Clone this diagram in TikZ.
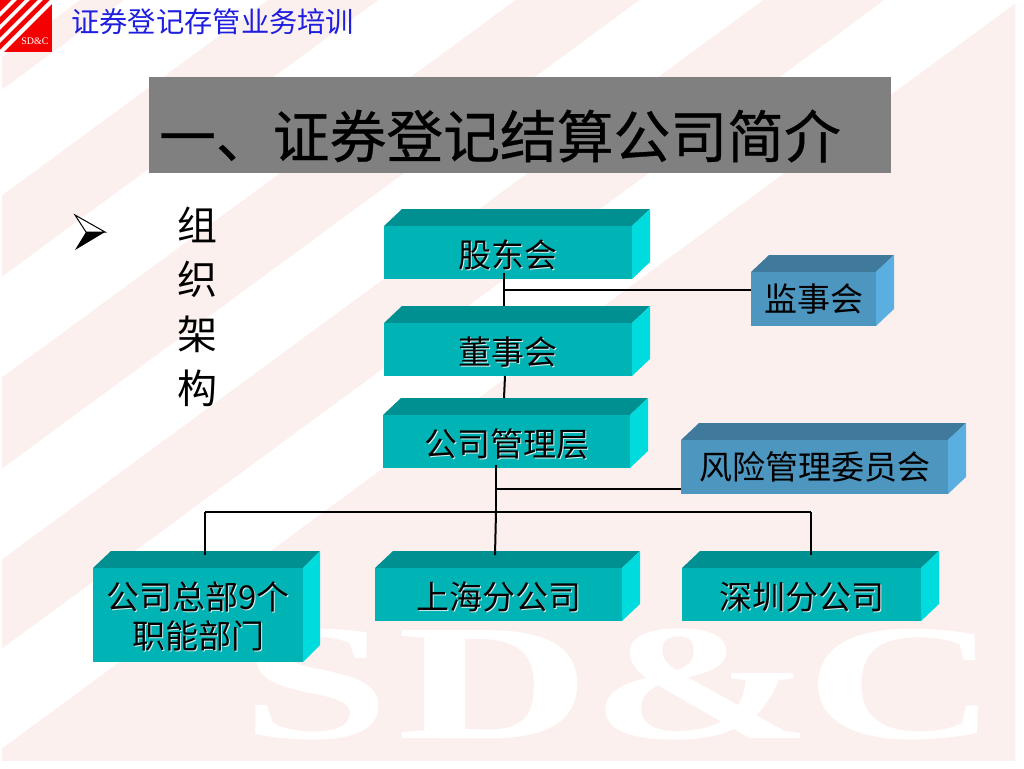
\documentclass[tikz,border=0pt]{standalone}
\usepackage{fontspec}
\setmainfont{Noto Sans CJK SC}
\newfontfamily\titlefont[FakeBold=0.6]{Noto Sans CJK SC}
\newfontfamily\wmfont{Liberation Serif}
\definecolor{bgpink}{HTML}{FCF0EE}
\definecolor{tealfront}{HTML}{00B4B6}
\definecolor{tealtop}{HTML}{009092}
\definecolor{tealside}{HTML}{00DCDE}
\definecolor{bluefront}{HTML}{4D96C0}
\definecolor{bluetop}{HTML}{3F7A9C}
\definecolor{blueside}{HTML}{5AAEE0}
\definecolor{titlegray}{HTML}{808080}
\definecolor{subblue}{HTML}{1E1EE0}
\definecolor{logored}{HTML}{F40000}
\definecolor{txtshadow}{HTML}{D8F0F0}
\tikzset{
  conn/.style={draw=black,line width=2pt},
  boxlabel/.style={inner sep=0pt,outer sep=0pt,align=center,font=\fontsize{33}{39}\selectfont,text=black},
}
\newcommand{\shd}[1]{\rlap{\kern1.3pt\raisebox{-1.3pt}{\textcolor{txtshadow}{#1}}}#1}
\newcommand{\lowr}[2]{\raisebox{-#1}[\height][\depth]{\shd{#2}}}
% \cuboid{name}{x0}{y0}{x1}{y1}{right}{top}{prefix}{text}
\newcommand{\cuboid}[9]{%
  \fill[#8top] (#2,#3) -- (#2+18,#7) -- (#6,#7) -- (#4,#3) -- cycle;
  \fill[#8side] (#4,#3) -- (#6,#7) -- (#6,#5-17) -- (#4,#5) -- cycle;
  \node[boxlabel,fill=#8front,minimum width=#4pt-#2pt,minimum height=#5pt-#3pt] (#1) at ({(#2+#4)/2},{(#3+#5)/2}) {#9};
}
\begin{document}
\begin{tikzpicture}[x=1pt,y=-1pt]
\useasboundingbox (0,0) rectangle (1024,768);
\fill[white] (0,0) rectangle (1024,768);
% background stripes
\begin{scope}
\clip (2,0) rectangle (1015,760);
\def\sl{0.735}
\foreach \a/\b in {59/91,197/278,379/470,561/650}{
  \fill[bgpink] (0,\a) -- (\a/\sl,0) -- (\b/\sl,0) -- (0,\b) -- cycle;
}
\fill[bgpink] (0,750) -- (1020,0) -- (1024,0) -- (1024,768) -- (0,768) -- cycle;
\end{scope}
\node[inner sep=0pt,text=white,font=\wmfont\bfseries\fontsize{120}{120}\selectfont,xscale=2.23,yscale=1.375] (wm) at (620,684) {S\kern.028em D\&\kern-.029em C};
% logo
\fill[logored] (0,0) rectangle (52,52);
\begin{scope}
\clip (0,0) rectangle (52,52);
\foreach \a/\b in {12/17,25/30,38/43,50/56}{
  \fill[white] (0,\a) -- (\a,0) -- (\b,0) -- (0,\b) -- cycle;
}
\end{scope}
\node[inner sep=0pt,text=white,font=\wmfont\fontsize{10}{10}\selectfont] (logotext) at (35,41) {SD\&C};
% headings
\node[inner sep=0pt,anchor=west,text=subblue,font=\fontsize{28.3}{28.3}\selectfont] (sub) at (71,22) {证券登记存管业务培训};
\node[fill=titlegray,minimum width=742pt,minimum height=96pt,inner sep=0pt] (titlebar) at (520,125) {};
\node[inner sep=0pt,text=black,font=\titlefont\fontsize{56.8}{56.8}\selectfont] (title) at (500,136) {一、证券登记结算公司简介};
% bullet
\fill[white] (75,215) -- (105,232) -- (86,232) -- cycle;
\draw[black,line width=1pt,line join=miter] (75,215) -- (105,232) -- (86,232) -- cycle;
\fill[black] (105,232) -- (75,250) -- (86,232) -- cycle;
\node[inner sep=0pt,align=center,font=\fontsize{40}{54.5}\selectfont] (org) at (197,307) {组\\织\\架\\构};
% boxes
\cuboid{gd}{384}{226}{632}{279}{650}{209}{teal}{\lowr{3pt}{股东会}}
\cuboid{ds}{384}{323}{632}{376}{650}{306}{teal}{\lowr{3pt}{董事会}}
\cuboid{gl}{383}{415}{630}{468}{648}{398}{teal}{\lowr{3pt}{公司管理层}}
\cuboid{js}{751}{272}{876}{326}{894}{255}{blue}{监事会}
\cuboid{fx}{681}{440}{948}{494}{966}{423}{blue}{风险管理委员会}
\cuboid{zb}{93}{568}{303}{662}{320}{551}{teal}{\lowr{2pt}{公司总部9个}\\\lowr{2pt}{职能部门}}
\cuboid{sh}{375}{568}{622}{621}{640}{551}{teal}{\lowr{3pt}{上海分公司}}
\cuboid{sz}{682}{568}{921}{621}{939}{551}{teal}{\lowr{3pt}{深圳分公司}}
% connectors
\coordinate (j1) at (503.5,290);
\coordinate (j2) at (505,376);
\coordinate (j3) at (496,489);
\coordinate (j4) at (496,512);
\coordinate (j5) at (495,512);
\coordinate (jl) at (205,512);
\coordinate (jr) at (811,512);
\draw[conn] ([yshift=6pt]j1 |- gd.south) -- ([yshift=17pt]j1 |- ds.north);
\draw[conn] (j1) -- (j1 -| js.west);
\draw[conn] (j2 |- ds.south) -- ([xshift=-1pt,yshift=17pt]j2 |- gl.north);
\draw[conn] ([yshift=3pt]j3 |- gl.south) -- (j4);
\draw[conn] (j3) -- (j3 -| fx.west);
\draw[conn] (j4) -- ([yshift=13pt]j5 |- sh.north);
\draw[conn] (jl) -- (jr);
\draw[conn] (jl) -- ([yshift=13pt]jl |- zb.north);
\draw[conn] (jr) -- ([yshift=13pt]jr |- sz.north);
\end{tikzpicture}
\end{document}
